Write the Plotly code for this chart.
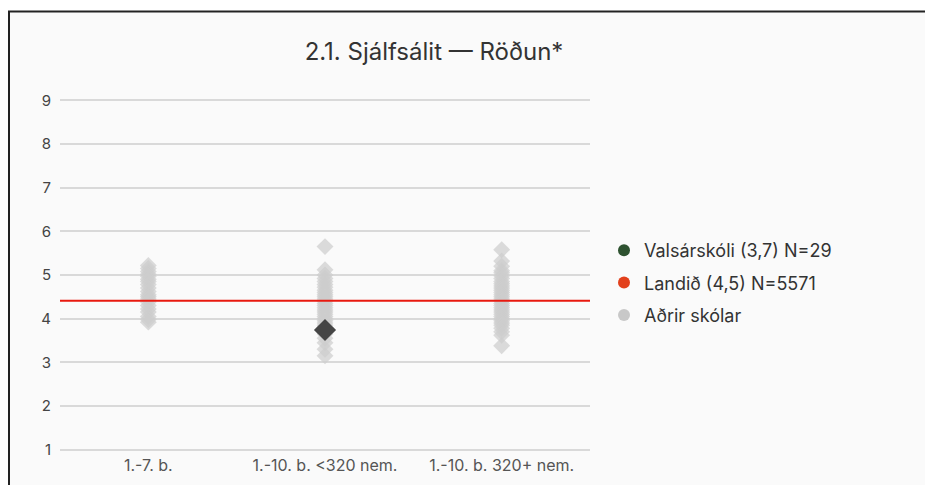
import plotly.graph_objects as go

categories = ["1.-7. b.", "1.-10. b. <320 nem.", "1.-10. b. 320+ nem."]

others_col1 = [5.22, 5.15, 5.08, 5.02, 4.97, 4.9, 4.85, 4.78, 4.7, 4.62, 4.55, 4.5,
               4.45, 4.38, 4.3, 4.22, 4.15, 4.05, 3.98, 3.92]
others_col2 = [5.65, 5.12, 5.0, 4.92, 4.85, 4.78, 4.72, 4.65, 4.6, 4.55, 4.5, 4.45,
               4.4, 4.35, 4.3, 4.25, 4.2, 4.15, 4.1, 4.05, 4.0, 3.95, 3.9, 3.85, 3.8,
               3.72, 3.65, 3.55, 3.45, 3.3, 3.15]
others_col3 = [5.58, 5.32, 5.2, 5.1, 5.05, 4.98, 4.92, 4.85, 4.8, 4.75, 4.7, 4.65,
               4.6, 4.55, 4.5, 4.45, 4.4, 4.35, 4.3, 4.25, 4.2, 4.15, 4.1, 4.05, 4.0,
               3.95, 3.9, 3.85, 3.78, 3.7, 3.62, 3.38]

school_category = "1.-10. b. <320 nem."
school_value = 3.74
national_value = 4.41

legend_labels = ["Valsárskóli (3,7) N=29", "Landið (4,5) N=5571", "Aðrir skólar"]
legend_colors = ["#2e5230", "#e2401c", "#c8c8c8"]

title_text = "2.1. Sjálfsálit — Röðun*"
y_ticks = [1, 2, 3, 4, 5, 6, 7, 8, 9]

FONT = "Inter, Roboto, sans-serif"

fig = go.Figure()

others_x = ([categories[0]] * len(others_col1) + [categories[1]] * len(others_col2)
            + [categories[2]] * len(others_col3))
others_y = others_col1 + others_col2 + others_col3

fig.add_trace(go.Scatter(
    x=others_x, y=others_y, mode="markers", showlegend=False,
    marker=dict(symbol="diamond", size=13, color="rgba(205,205,205,0.72)",
                line=dict(width=0)),
    hoverinfo="y"))

# national line spanning whole plot width via a hidden secondary x axis
fig.add_trace(go.Scatter(
    x=[0, 1], y=[national_value, national_value], xaxis="x2", mode="lines",
    showlegend=False, line=dict(color="#e8190f", width=2.2), hoverinfo="y"))

fig.add_trace(go.Scatter(
    x=[school_category], y=[school_value], mode="markers", showlegend=False,
    marker=dict(symbol="diamond", size=17, color="#454545", line=dict(width=0))))

for i, (lab, col) in enumerate(zip(legend_labels, legend_colors)):
    fig.add_trace(go.Scatter(
        x=[None], y=[None], mode="markers", name=lab, legendgroup=f"g{i}",
        marker=dict(symbol="circle", size=12, color=col)))

W, H = 925, 477
L, R, T, B = 52, 343, 88, 31
PW = W - L - R
PH = H - T - B

def px_x(px):
    return (px - L) / PW

def px_y(py):
    return (H - B - py) / PH

# card background and its top / left border
fig.add_shape(type="rect", xref="paper", yref="paper",
              x0=px_x(1), x1=px_x(W + 60), y0=px_y(H + 60), y1=px_y(3.5),
              fillcolor="#fafafa", line=dict(width=0), layer="below")
fig.add_shape(type="line", xref="paper", yref="paper",
              x0=px_x(0), x1=px_x(W + 60), y0=px_y(3.5), y1=px_y(3.5),
              line=dict(color="#222222", width=2), layer="below")
fig.add_shape(type="line", xref="paper", yref="paper",
              x0=px_x(1), x1=px_x(1), y0=px_y(H + 60), y1=px_y(3),
              line=dict(color="#222222", width=2), layer="below")

fig.update_layout(
    width=W, height=H,
    margin=dict(l=L, r=R, t=T, b=B, autoexpand=False),
    paper_bgcolor="white", plot_bgcolor="rgba(0,0,0,0)",
    font=dict(family=FONT, color="#444444", size=13),
    title=dict(text=title_text, x=426 / W, xref="container", xanchor="center",
               y=1 - 44 / H, yref="container", yanchor="middle",
               font=dict(size=24, color="#333333", family=FONT)),
    xaxis=dict(type="category", categoryorder="array", categoryarray=categories,
               range=[-0.5, 2.5], showgrid=False, zeroline=False, showline=False,
               ticks="", automargin=False,
               tickfont=dict(size=16, color="#555555")),
    xaxis2=dict(overlaying="x", range=[0, 1], visible=False, showgrid=False),
    yaxis=dict(range=[0.9, 9.1], tickvals=y_ticks, showgrid=True, gridcolor="#d9d9d9",
               gridwidth=1.5, zeroline=False, showline=False, ticks="",
               automargin=False, ticklabelstandoff=8,
               tickfont=dict(size=15, color="#444444")),
    legend=dict(x=px_x(596), y=px_y(275), xanchor="left", yanchor="middle",
                bgcolor="rgba(0,0,0,0)", font=dict(size=18, color="#333333"),
                itemsizing="constant", tracegroupgap=6),
    showlegend=True,
)

fig.write_html("out.html")
